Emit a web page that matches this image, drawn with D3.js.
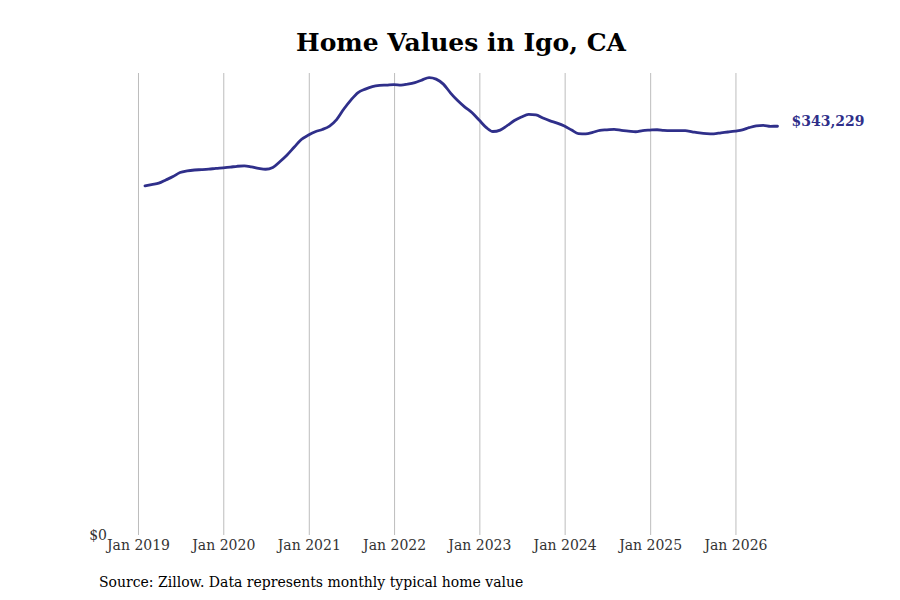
<!DOCTYPE html>
<html>
<head>
<meta charset="utf-8">
<script src="https://cdn.jsdelivr.net/npm/d3@7"></script>
<style>
  body { margin: 0; background: #fff; }
  svg text { font-family: "DejaVu Serif", serif; }
  .tick text { font-size: 14px; fill: #333; }
</style>
</head>
<body>
<div id="chart-container"></div>
<script>
/* Home values line chart, monthly typical value */

// end-of-month dates, Jan 2019 .. Jun 2026
const startMonth = "2019-01";
const monthCount = 90;

const homeValues = [
  293100, 294300, 295400, 298100, 301000, 304400, 305800, 306500, 306800, 307200, 307800, 308300,
  308900, 309600, 310000, 309200, 307900, 307100, 308600, 313600, 319100, 325800, 332100, 335900,
  338800, 340500, 343400, 348800, 357700, 365200, 371500, 374400, 376500, 377500, 377800, 378200,
  377800, 378600, 379900, 382000, 384100, 382800, 378600, 371100, 364800, 359300, 354700, 348400,
  342100, 338800, 340000, 343800, 348000, 351000, 353200, 352800, 350100, 347800, 345900, 343400,
  340000, 337100, 336900, 338100, 339800, 340200, 340600, 339800, 339200, 338600, 339600, 340000,
  340300, 339800, 339600, 339600, 339500, 338600, 337700, 337100, 336900, 337700, 338400, 339200,
  340200, 342000, 343600, 344000, 343200, 343229
];

const tickYears = [2019, 2020, 2021, 2022, 2023, 2024, 2025, 2026];

function create_line() {
  let width = 900,
    height = 600,
    margin = { top: 73, right: 122, bottom: 65, left: 145 };

  const svg = d3
    .select("#chart-container")
    .append("svg")
    .attr("width", width)
    .attr("height", height);

  const [sy, sm] = startMonth.split("-").map(Number);
  const data = homeValues.map((v, i) => ({
    date: new Date(sy, sm + i, 0), // last day of month
    value: v,
  }));

  let x = d3
    .scaleTime()
    .domain(d3.extent(data, (d) => d.date))
    .range([margin.left, width - margin.right - 0.5]);

  let y = d3
    .scaleLinear()
    .domain([0, d3.max(data, (d) => d.value) * 1.01])
    .range([height - margin.bottom, margin.top]);

  const color = "#2f2f8a";

  // vertical gridlines + labels
  svg
    .append("g")
    .attr("class", "x-axis")
    .attr("transform", `translate(0,${height - margin.bottom})`)
    .call(
      d3
        .axisBottom(x)
        .tickValues(tickYears.map((yr) => new Date(yr, 0, 1)))
        .tickFormat(d3.timeFormat("Jan %Y"))
        .tickSize(-(height - margin.bottom - margin.top))
        .tickPadding(5)
    )
    .call((g) => g.select(".domain").remove())
    .call((g) => g.selectAll(".tick line").attr("stroke", "#bdbdbd"));

  // y axis, only $0 shown
  svg
    .append("g")
    .attr("class", "y-axis")
    .attr("transform", `translate(107,0)`)
    .call(d3.axisLeft(y).tickValues([0]).tickFormat((d) => `$${d}`).tickSize(0).tickPadding(0))
    .call((g) => g.select(".domain").remove());

  const line = d3
    .line()
    .x((d) => x(d.date))
    .y((d) => y(d.value))
    .curve(d3.curveMonotoneX);

  svg
    .append("path")
    .datum(data)
    .attr("fill", "none")
    .attr("stroke", color)
    .attr("stroke-width", 2.8)
    .attr("stroke-linejoin", "round")
    .attr("stroke-linecap", "round")
    .attr("d", line);

  const last = data[data.length - 1];
  svg
    .append("text")
    .attr("x", x(last.date) + 14)
    .attr("y", y(last.value))
    .attr("dy", "0em")
    .style("font-size", "14px")
    .style("font-weight", "bold")
    .style("fill", color)
    .text(d3.format("$,")(last.value));

  svg
    .append("text")
    .attr("x", 461)
    .attr("y", 51)
    .attr("text-anchor", "middle")
    .style("font-size", "25px")
    .style("font-weight", "bold")
    .style("fill", "#000")
    .text("Home Values in Igo, CA");

  svg
    .append("text")
    .attr("x", 99)
    .attr("y", 587)
    .style("font-size", "14px")
    .style("fill", "#000")
    .text("Source: Zillow. Data represents monthly typical home value");
}

create_line();
</script>
</body>
</html>
